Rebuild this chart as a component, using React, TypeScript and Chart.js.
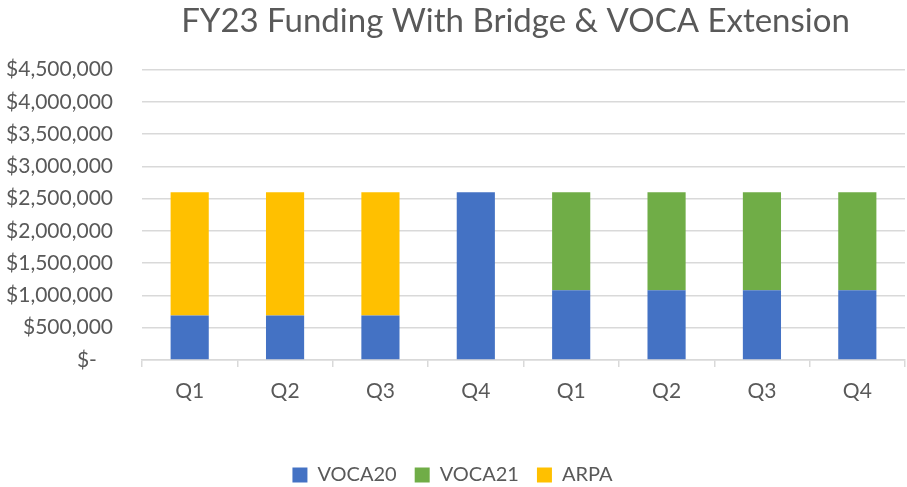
import React, { useEffect, useRef } from "react";
import { Chart, registerables } from "chart.js";

Chart.register(...registerables);

const categories = ["Q1", "Q2", "Q3", "Q4", "Q1", "Q2", "Q3", "Q4"];
const voca20 = [690000, 690000, 690000, 2600000, 1080000, 1080000, 1080000, 1080000];
const voca21 = [0, 0, 0, 0, 1520000, 1520000, 1520000, 1520000];
const arpa = [1910000, 1910000, 1910000, 0, 0, 0, 0, 0];
const titleText = "FY23 Funding With Bridge & VOCA Extension";

const FONT = "Lato, 'Open Sans', sans-serif";
const TEXT = "#595959";
const GRID = "#d9d9d9";

function fmt(v: number): string {
  if (v === 0) return "$-   ";
  return "$" + v.toLocaleString("en-US");
}

const titleOverPlot = {
  id: "titleOverPlot",
  afterLayout(chart: any) {
    const t = chart.titleBlock;
    if (t) {
      t.left = chart.chartArea.left - 16;
      t.right = chart.chartArea.right;
      t.width = t.right - t.left;
    }
  },
};

export default function App() {
  const ref = useRef<HTMLCanvasElement | null>(null);
  useEffect(() => {
    document.body.style.margin = "0";
    const ctx = ref.current!;
    const chart = new Chart(ctx, {
      type: "bar",
      data: {
        labels: categories,
        datasets: [
          { label: "VOCA20", data: voca20, backgroundColor: "#4472C4" },
          { label: "VOCA21", data: voca21, backgroundColor: "#70AD47" },
          { label: "ARPA", data: arpa, backgroundColor: "#FFC000" },
        ],
      },
      plugins: [titleOverPlot],
      options: {
        animation: false,
        responsive: false,
        maintainAspectRatio: false,
        layout: { padding: { left: 0, right: 2, top: 0, bottom: -8 } },
        datasets: { bar: { barPercentage: 0.4, categoryPercentage: 1.0 } },
        plugins: {
          title: {
            display: true,
            text: titleText,
            color: TEXT,
            font: { family: FONT, size: 33, weight: "normal" },
            padding: { top: 2, bottom: 28 },
          },
          legend: {
            position: "bottom",
            labels: {
              color: TEXT,
              font: { family: FONT, size: 20 },
              boxWidth: 15,
              boxHeight: 15,
              padding: 18,
            },
          },
          tooltip: { enabled: false },
        },
        scales: {
          x: {
            stacked: true,
            grid: {
              display: true,
              drawOnChartArea: false,
              drawTicks: true,
              tickLength: 7,
              color: GRID,
              lineWidth: 1.5,
              offset: true,
            },
            border: { display: true, color: GRID, width: 1.5 },
            ticks: { color: TEXT, font: { family: FONT, size: 21 }, padding: 12 },
            afterFit: (s: any) => {
              s.height = 87;
            },
          },
          y: {
            stacked: true,
            min: 0,
            max: 4500000,
            grid: { color: GRID, lineWidth: 1.5, drawTicks: false },
            border: { display: false },
            ticks: {
              stepSize: 500000,
              color: TEXT,
              font: { family: FONT, size: 21 },
              padding: 29,
              callback: (v: any) => fmt(Number(v)),
            },
            afterFit: (s: any) => {
              s.width = 142;
            },
          },
        },
      },
    });
    return () => chart.destroy();
  }, []);
  return <canvas ref={ref} width={907} height={487} style={{ display: "block" }} />;
}
